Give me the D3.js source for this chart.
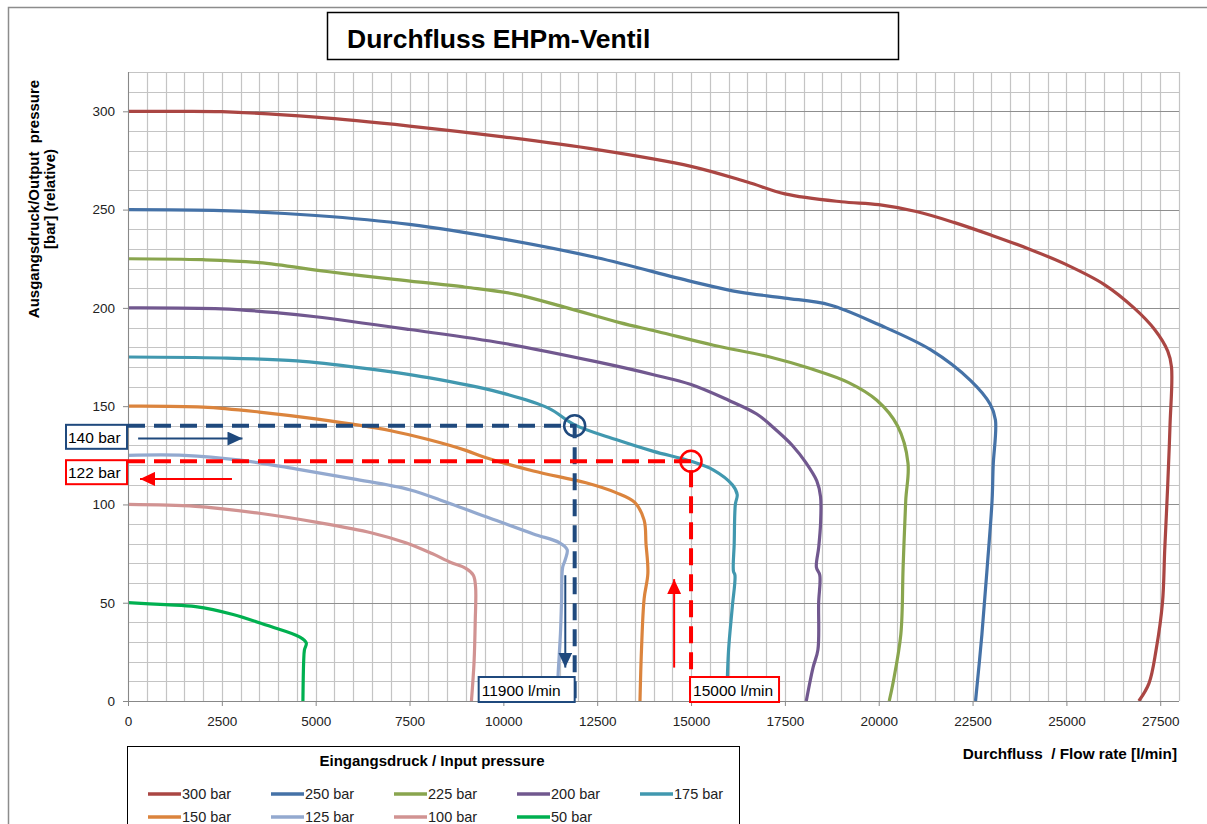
<!DOCTYPE html>
<html>
<head>
<meta charset="utf-8">
<script src="https://cdn.jsdelivr.net/npm/d3@7"></script>
<style>
  body { margin: 0; background: #fff; }
  text { font-family: Arial, "Liberation Sans", sans-serif; }
</style>
</head>
<body>
<div id="chart"></div>
<script>
// input pressure curves: [flow l/min, output pressure bar]
var curve300 = [[0,300],[1300,300],[2500,299.8],[5000,297],[7500,292.5],[10000,287],[12500,280.5],[15000,272],[16500,264],[17500,258],[19000,254],[20000,252.5],[21000,249],[22000,243.5],[23000,237],[24000,230],[25000,222],[26000,212],[26800,200],[27350,189],[27700,178],[27800,170],[27760,140],[27700,110],[27620,77],[27560,50],[27390,26],[27200,9],[26930,0]];
var curve250 = [[0,250],[2500,249.5],[5000,247],[7500,242.5],[10000,235],[12500,225.5],[15000,213.5],[16300,208],[17500,205],[18700,201.5],[20000,191.5],[21400,178.5],[22450,163],[22970,151],[23110,143],[23050,120],[23020,102],[22890,68],[22750,34],[22580,0]];
var curve225 = [[0,225],[2000,224.5],[3500,223],[5300,218.5],[7100,214.5],[9000,210.5],[10300,207],[11700,200],[13100,192.5],[14100,188],[15600,181],[17100,175],[18200,169],[19200,162],[19950,153],[20500,140],[20780,121],[20720,102],[20650,68],[20590,34],[20380,9],[20280,0]];
var curve200 = [[0,200],[2500,199.5],[4000,197.5],[5000,195.5],[7500,189],[10000,182],[12500,172.5],[14000,166],[15000,161],[16000,153],[16750,146],[17200,139],[17700,130],[18070,121],[18350,112],[18450,104],[18450,90],[18400,78],[18340,68],[18430,64],[18400,50],[18380,26],[18250,17],[18070,0]];
var curve175 = [[0,175],[2500,174.5],[4500,173],[6200,169.5],[8000,164.5],[9900,157],[11200,149],[11900,140.5],[13000,133],[14000,127],[15000,122],[15600,117.5],[16100,110],[16230,105],[16180,100],[16150,80],[16130,66],[16170,64],[16100,48],[16000,26],[15950,0]];
var curve150 = [[0,150],[2000,149.5],[3500,147],[5000,143.5],[7000,137.5],[8000,133],[9000,127.5],[9500,124],[10800,117],[12200,111],[13000,106],[13500,101],[13750,92],[13800,80],[13850,65],[13750,52],[13680,26],[13640,0]];
var curve125 = [[0,125],[1500,125],[3000,122.5],[4500,118],[6000,113],[7500,107.5],[8500,101],[9500,94],[10800,85],[11500,80.5],[11700,77],[11650,72],[11580,68],[11550,50],[11520,34],[11460,14],[11430,0]];
var curve100 = [[0,100],[1800,99],[3500,95.5],[5000,91],[6500,85.5],[7400,80.5],[8100,75],[8600,70.5],[9000,67.5],[9200,64],[9260,58],[9250,40],[9220,20],[9150,0]];
var curve50 = [[0,50],[1000,49],[1800,48],[2800,44],[3700,38.5],[4580,32.5],[4750,29.5],[4700,26],[4680,20],[4660,0]];

var seriesNames = ["300 bar", "250 bar", "225 bar", "200 bar", "175 bar", "150 bar", "125 bar", "100 bar", "50 bar"];
var seriesData = [curve300, curve250, curve225, curve200, curve175, curve150, curve125, curve100, curve50];
var seriesColors = ["#AA4643", "#4572A7", "#89A54E", "#71588F", "#4198AF", "#DB843D", "#93A9CF", "#D19392", "#00B050"];

var xTicks = [0, 2500, 5000, 7500, 10000, 12500, 15000, 17500, 20000, 22500, 25000, 27500];
var yTicks = [0, 50, 100, 150, 200, 250, 300];

// reading examples: [flow, pressure]
var readFlow = [11900, 15000];
var readPress = [140, 122];
var readColors = ["#1F497D", "#FF0000"];
var pressLabels = ["140 bar", "122 bar"];
var flowLabels = ["11900 l/min", "15000 l/min"];
// arrows: [x1, y1, x2, y2] in data units, tip at the end
var arrowsBlue = [[270, 133.5, 3050, 133.5], [11650, 64, 11650, 17]];
var arrowsRed = [[2770, 113, 320, 113], [14550, 17, 14550, 62]];

var x, y, svg;

function drawChart() {
    var W = 1207, H = 824;
    var plot = {left: 128, right: 1179, top: 72, bottom: 701};

    svg = d3.select("#chart").append("svg")
        .attr("width", W)
        .attr("height", H);

    svg.append("rect").attr("width", W).attr("height", H).attr("fill", "#fff");

    // outer frame
    svg.append("path")
        .attr("d", "M8.5," + H + "V7.5H" + W)
        .attr("fill", "none")
        .attr("stroke", "#8c8c8c")
        .attr("stroke-width", 1.5);

    x = d3.scaleLinear().domain([0, 28000]).range([plot.left, plot.right]);
    y = d3.scaleLinear().domain([0, 320]).range([plot.bottom, plot.top]);

    // grid
    var g = svg.append("g");
    g.selectAll(".vg").data(d3.range(0, 28001, 500)).enter().append("line")
        .attr("x1", function(d) { return Math.round(x(d)) + 0.5; })
        .attr("x2", function(d) { return Math.round(x(d)) + 0.5; })
        .attr("y1", y(320)).attr("y2", y(0))
        .attr("stroke", "#c4c4c4").attr("stroke-width", 1.2);
    g.selectAll(".hg").data(d3.range(0, 321, 10)).enter().append("line")
        .attr("x1", x(0)).attr("x2", x(28000))
        .attr("y1", function(d) { return Math.round(y(d)) + 0.5; })
        .attr("y2", function(d) { return Math.round(y(d)) + 0.5; })
        .attr("stroke", function(d) { return d % 50 == 0 && d > 0 && d < 320 ? "#8f8f8f" : "#c4c4c4"; })
        .attr("stroke-width", 1.2);

    // curves
    var line = d3.line()
        .x(function(d) { return x(d[0]); })
        .y(function(d) { return y(d[1]); })
        .curve(d3.curveCatmullRom.alpha(0.5));

    svg.append("clipPath").attr("id", "clip").append("rect")
        .attr("x", plot.left).attr("y", plot.top)
        .attr("width", plot.right - plot.left).attr("height", plot.bottom - plot.top);

    svg.append("g").attr("clip-path", "url(#clip)")
        .selectAll("path").data(seriesData).enter().append("path")
        .attr("d", line)
        .attr("fill", "none")
        .attr("stroke", function(d, i) { return seriesColors[i]; })
        .attr("stroke-width", 3.2)
        .attr("stroke-linejoin", "round");

    // axes
    var xAxis = svg.append("g")
        .attr("transform", "translate(0," + y(0) + ")")
        .call(d3.axisBottom(x).tickValues(xTicks).tickFormat(d3.format("d"))
            .tickSize(5).tickSizeOuter(0).tickPadding(10));
    var yAxis = svg.append("g")
        .attr("transform", "translate(" + x(0) + ",0)")
        .call(d3.axisLeft(y).tickValues(yTicks).tickFormat(d3.format("d"))
            .tickSize(5).tickSizeOuter(0).tickPadding(8));
    [xAxis, yAxis].forEach(function(a) {
        a.attr("font-size", 13.5).attr("font-family", "Arial, 'Liberation Sans', sans-serif");
        a.select(".domain").remove();
        a.selectAll("line").attr("stroke", "#888");
        a.selectAll("text").attr("fill", "#222");
    });
    svg.append("line").attr("x1", x(0)).attr("x2", x(28000))
        .attr("y1", y(0) + 0.5).attr("y2", y(0) + 0.5).attr("stroke", "#888");
    svg.append("line").attr("x1", x(0) + 0.5).attr("x2", x(0) + 0.5)
        .attr("y1", y(320)).attr("y2", y(0)).attr("stroke", "#888");

    // title
    svg.append("rect").attr("x", 327.5).attr("y", 12.5).attr("width", 571).attr("height", 47)
        .attr("fill", "#fff").attr("stroke", "#000").attr("stroke-width", 1.5);
    svg.append("text").attr("x", 347).attr("y", 48)
        .attr("font-size", "26.5px").attr("font-weight", "bold")
        .text("Durchfluss EHPm-Ventil");

    // axis titles
    var yt = svg.append("text")
        .attr("transform", "translate(39," + 199 + ") rotate(-90)")
        .attr("text-anchor", "middle")
        .attr("font-size", "15px").attr("font-weight", "bold");
    yt.append("tspan").attr("x", 0).attr("y", 0).attr("xml:space", "preserve").text("Ausgangsdruck/Output  pressure");
    yt.append("tspan").attr("x", 0).attr("y", 16).text("[bar] (relative)");

    svg.append("text").attr("x", 1177).attr("y", 759)
        .attr("text-anchor", "end")
        .attr("font-size", "15.3px").attr("font-weight", "bold")
        .attr("xml:space", "preserve")
        .text("Durchfluss  / Flow rate [l/min]");

    // reading lines
    var dash = "17,9";
    readFlow.forEach(function(f, i) {
        var c = readColors[i];
        svg.append("path")
            .attr("d", "M" + x(0) + "," + y(readPress[i]) + "H" + x(f) + "V" + y(0))
            .attr("fill", "none").attr("stroke", c).attr("stroke-width", 4)
            .attr("stroke-dasharray", dash);
        svg.append("circle").attr("cx", x(f)).attr("cy", y(readPress[i])).attr("r", 10.5)
            .attr("fill", "none").attr("stroke", c).attr("stroke-width", 2.5);
    });

    // arrow heads
    var defs = svg.append("defs");
    readColors.forEach(function(c, i) {
        defs.append("marker").attr("id", "head" + i)
            .attr("markerUnits", "userSpaceOnUse")
            .attr("markerWidth", 15).attr("markerHeight", 14)
            .attr("refX", 15).attr("refY", 7)
            .attr("orient", "auto")
            .append("path").attr("d", "M0,0L15,7L0,14Z").attr("fill", c);
    });
    [arrowsBlue, arrowsRed].forEach(function(list, i) {
        list.forEach(function(a) {
            svg.append("line")
                .attr("x1", x(a[0])).attr("y1", y(a[1]))
                .attr("x2", x(a[2])).attr("y2", y(a[3]))
                .attr("stroke", readColors[i]).attr("stroke-width", 2)
                .attr("marker-end", "url(#head" + i + ")");
        });
    });

    // label boxes
    readFlow.forEach(function(f, i) {
        var c = readColors[i];
        var py = y(readPress[i]);
        svg.append("rect").attr("x", 66).attr("y", py - 1).attr("width", 61).attr("height", 24)
            .attr("fill", "#fff").attr("stroke", c).attr("stroke-width", 2);
        svg.append("text").attr("x", 68).attr("y", py + 17)
            .attr("font-size", "15.5px").text(pressLabels[i]);

        var bx = i == 0 ? x(f) - 96 : x(f) - 1;
        svg.append("rect").attr("x", bx).attr("y", 677).attr("width", i == 0 ? 96 : 89).attr("height", 25)
            .attr("fill", "#fff").attr("stroke", c).attr("stroke-width", 2);
        svg.append("text").attr("x", bx + 3).attr("y", 695.5)
            .attr("font-size", "15.5px").text(flowLabels[i]);
    });

    // legend
    svg.append("rect").attr("x", 127.5).attr("y", 746.5).attr("width", 612).attr("height", 100)
        .attr("fill", "#fff").attr("stroke", "#000").attr("stroke-width", 1);
    svg.append("text").attr("x", 432).attr("y", 766)
        .attr("text-anchor", "middle")
        .attr("font-size", "15px").attr("font-weight", "bold")
        .text("Eingangsdruck / Input pressure");

    var item = svg.selectAll(".leg").data(seriesNames).enter().append("g")
        .attr("transform", function(d, i) {
            return "translate(" + (148 + (i % 5) * 123) + "," + (794 + Math.floor(i / 5) * 23) + ")";
        });
    item.append("line").attr("x1", 0).attr("x2", 33).attr("y1", 0).attr("y2", 0)
        .attr("stroke", function(d, i) { return seriesColors[i]; })
        .attr("stroke-width", 3.5);
    item.append("text").attr("x", 34).attr("y", 5)
        .attr("font-size", "14.5px").attr("fill", "#222")
        .text(function(d) { return d; });
}

window.onload = drawChart;
</script>
</body>
</html>
